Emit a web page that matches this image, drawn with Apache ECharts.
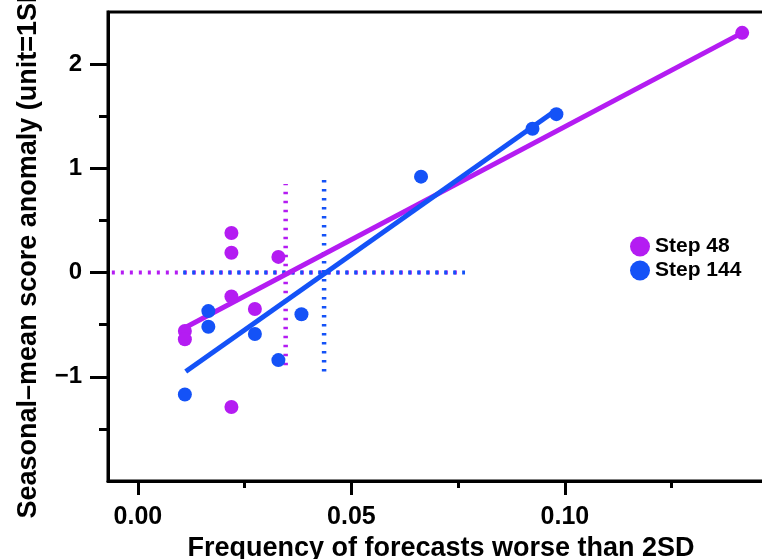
<!DOCTYPE html>
<html>
<head>
<meta charset="utf-8">
<script src="https://cdn.jsdelivr.net/npm/echarts@6/dist/echarts.min.js"></script>
<style>
html,body{margin:0;padding:0;background:#fff;}
#chart{width:762px;height:559px;}
</style>
</head>
<body>
<div id="chart"></div>
<script>
// ---- data ----
const seriesNames = ['Step 48', 'Step 144'];
const step48X = [0.0219, 0.0219, 0.0329, 0.0219, 0.0274, 0.0110, 0.0110, 0.0219, 0.1415];
const step48Y = [0.38, 0.19, 0.15, -0.23, -0.35, -0.56, -0.64, -1.29, 2.30];
const step144X = [0.0165, 0.0165, 0.0274, 0.0383, 0.0329, 0.0110, 0.0663, 0.0924, 0.0980];
const step144Y = [-0.37, -0.52, -0.59, -0.40, -0.84, -1.17, 0.92, 1.38, 1.52];
// regression line end points
const fit48X = [0.0110, 0.1415];
const fit48Y = [-0.53, 2.30];
const fit144X = [0.0112, 0.0980];
const fit144Y = [-0.95, 1.56];
// mean / spread crosses: [meanX, halfWidthX, yLow, yHigh]
const cross48 = [0.0346, 0.0407, -0.89, 0.85];
const cross144 = [0.0436, 0.0330, -0.95, 0.94];
// ticks
const xMajorTicks = [0, 0.05, 0.10, 0.15];
const xMinorTicks = [0.025, 0.075, 0.125];
const xTickLabels = [0, 0.05, 0.10];
const yMajorTicks = [-1, 0, 1, 2];
const yMinorTicks = [-1.5, -0.5, 0.5, 1.5];
const yTickLabels = [-1, 0, 1, 2];

const colors = ['#B41CF2', '#1452F7'];
const FONT = '"Liberation Sans", Arial, sans-serif';

const xMin = -0.007, xMax = 0.1527, yMin = -2, yMax = 2.5;

function pairs(xs, ys) { return xs.map((x, i) => [x, ys[i]]); }

const chart = echarts.init(document.getElementById('chart'), null, {renderer: 'canvas'});

function dotted(name, color, data, w, dash) {
  return {
    name: name, type: 'line', data: data, showSymbol: false, symbol: 'none',
    lineStyle: {color: color, width: w, type: dash, cap: 'butt'}, silent: true, z: 2
  };
}

const option = {
  animation: false,
  grid: {left: 108, top: 12, bottom: 78, right: -28, show: true, borderColor: '#000', borderWidth: 3,
         containLabel: false, outerBoundsMode: 'none'},
  legend: {
    data: seriesNames, orient: 'vertical', left: 625, top: 231,
    itemWidth: 20, itemHeight: 20, itemGap: 3,
    icon: 'circle',
    textStyle: {fontFamily: FONT, fontWeight: 'bold', fontSize: 21, color: '#000'}
  },
  xAxis: [
    {
      type: 'value', min: xMin, max: xMax, position: 'bottom',
      axisLine: {show: true, onZero: false, lineStyle: {color: '#000', width: 3}},
      axisTick: {show: true, customValues: xMajorTicks, length: 14, lineStyle: {color: '#000', width: 3}},
      axisLabel: {customValues: xTickLabels, formatter: v => v.toFixed(2), fontFamily: FONT, fontWeight: 'bold', fontSize: 25, color: '#000', margin: 24},
      splitLine: {show: false},
      name: 'Frequency of forecasts worse than 2SD', nameLocation: 'middle', nameGap: 50,
      nameTextStyle: {fontFamily: FONT, fontWeight: 'bold', fontSize: 27, color: '#000', padding: [0, 16, 0, 0]}
    },
    {
      type: 'value', min: xMin, max: xMax, position: 'bottom',
      axisLine: {show: false, onZero: false},
      axisTick: {show: true, customValues: xMinorTicks, length: 7, lineStyle: {color: '#000', width: 3}},
      axisLabel: {show: false},
      splitLine: {show: false}
    }
  ],
  yAxis: [
    {
      type: 'value', min: yMin, max: yMax, position: 'left',
      axisLine: {show: true, onZero: false, lineStyle: {color: '#000', width: 3}},
      axisTick: {show: true, customValues: yMajorTicks, length: 18, lineStyle: {color: '#000', width: 3}},
      axisLabel: {customValues: yTickLabels, formatter: v => String(v).replace('-', '\u2212'), fontFamily: FONT, fontWeight: 'bold', fontSize: 24, color: '#000', margin: 26},
      splitLine: {show: false},
      name: 'Seasonal\u2013mean score anomaly (unit=1SD)', nameLocation: 'middle', nameGap: 66, nameRotate: 90,
      nameTextStyle: {fontFamily: FONT, fontWeight: 'bold', fontSize: 27, color: '#000'}
    },
    {
      type: 'value', min: yMin, max: yMax, position: 'left',
      axisLine: {show: false, onZero: false},
      axisTick: {show: true, customValues: yMinorTicks, length: 9, lineStyle: {color: '#000', width: 3}},
      axisLabel: {show: false},
      splitLine: {show: false}
    }
  ],
  series: [
    dotted('m48h', colors[0], [[cross48[0] - cross48[1], 0], [cross48[0] + cross48[1], 0]], 4, [3, 6]),
    dotted('m144h', colors[1], [[cross144[0] - cross144[1], 0], [cross144[0] + cross144[1], 0]], 4, [3, 6]),
    dotted('m48v', colors[0], [[cross48[0], cross48[2]], [cross48[0], cross48[3]]], 4.5, [2.5, 6.5]),
    dotted('m144v', colors[1], [[cross144[0], cross144[2]], [cross144[0], cross144[3]]], 4.5, [2.5, 6.5]),
    {name: 'fit48', type: 'line', data: pairs(fit48X, fit48Y), showSymbol: false, symbol: 'none', lineStyle: {color: colors[0], width: 5}, z: 3},
    {name: 'fit144', type: 'line', data: pairs(fit144X, fit144Y), showSymbol: false, symbol: 'none', lineStyle: {color: colors[1], width: 5}, z: 3},
    {name: seriesNames[0], type: 'scatter', data: pairs(step48X, step48Y), symbol: 'circle', symbolSize: 14, itemStyle: {color: colors[0], opacity: 1}, z: 4},
    {name: seriesNames[1], type: 'scatter', data: pairs(step144X, step144Y), symbol: 'circle', symbolSize: 14, itemStyle: {color: colors[1], opacity: 1}, z: 4}
  ]
};
chart.setOption(option);
</script>
</body>
</html>
